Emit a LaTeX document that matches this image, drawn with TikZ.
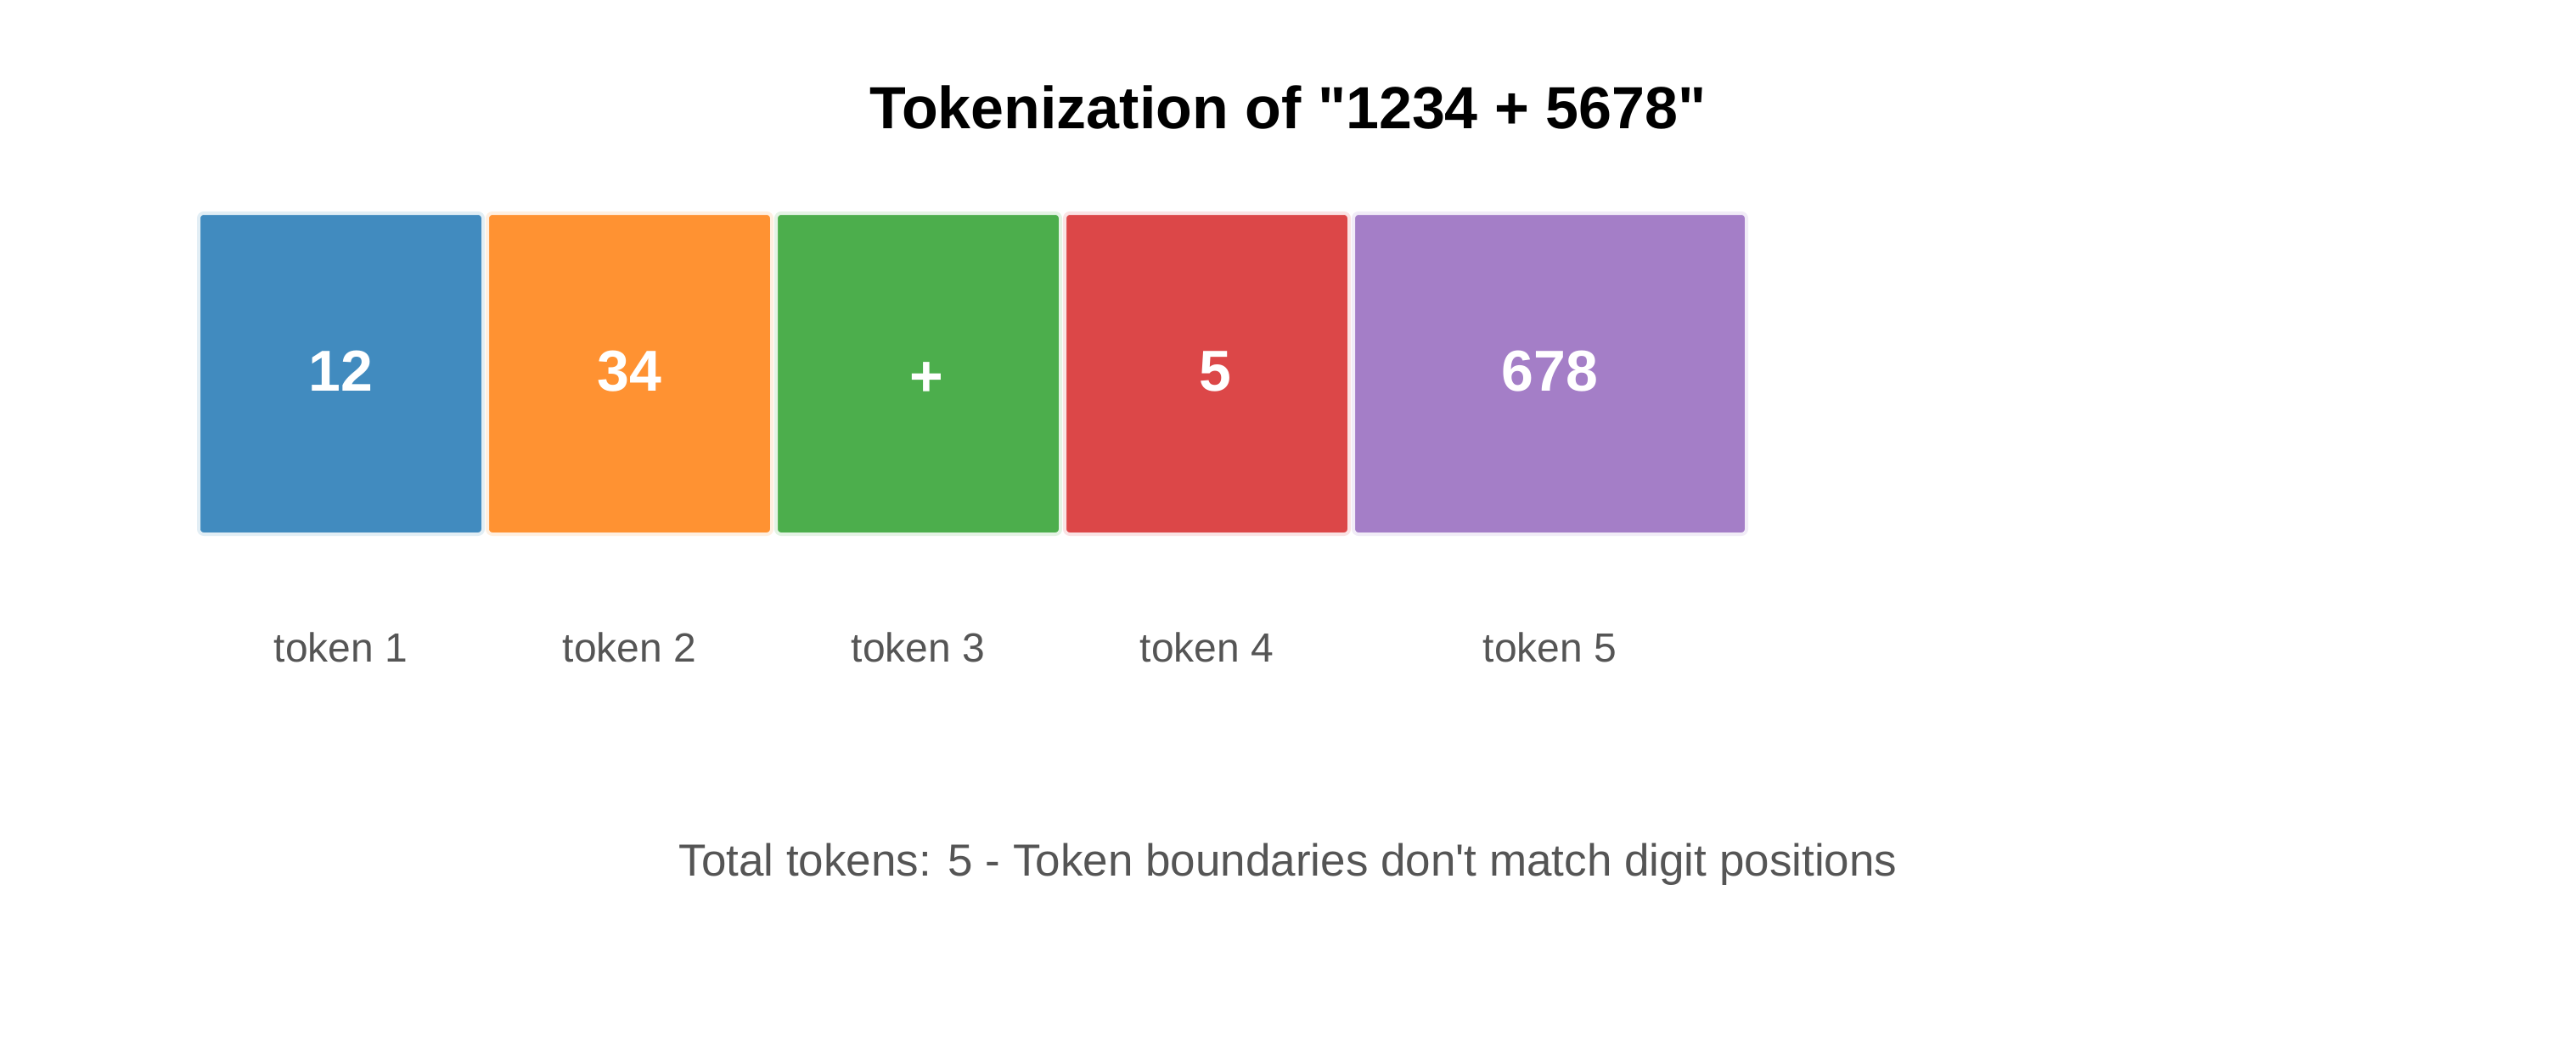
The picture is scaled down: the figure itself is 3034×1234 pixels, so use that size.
\documentclass[tikz,border=0pt]{standalone}
\usepackage{fontspec}
\setmainfont{Liberation Sans}[Ligatures=TeXOff]
\definecolor{cblue}{RGB}{65,139,191}
\definecolor{corange}{RGB}{255,146,50}
\definecolor{cgreen}{RGB}{76,174,76}
\definecolor{cred}{RGB}{220,71,72}
\definecolor{cpurple}{RGB}{164,126,199}
\definecolor{labelgray}{RGB}{85,85,85}
\tikzset{
  tokbox/.style={rectangle, rounded corners=6pt, line width=4pt, minimum height=378pt,
    minimum width=335pt, inner sep=0pt, text=white, text height=40pt, text depth=0pt,
    font=\fontsize{68}{80}\selectfont\bfseries},
  toklabel/.style={anchor=base, text=labelgray, inner sep=0pt, font=\fontsize{48}{58}\selectfont},
}
\begin{document}
\begin{tikzpicture}[x=1pt,y=-1pt]
\useasboundingbox (0,0) rectangle (3034,1234);
\node[anchor=base, inner sep=0pt, font=\fontsize{70}{84}\selectfont\bfseries] (title) at (1517,151) {Tokenization of "1234 + 5678"};
\node[tokbox, fill=cblue, draw=cblue!15!white] (t1) at (401.5,440) {12};
\node[tokbox, fill=corange, draw=corange!15!white] (t2) at (741.5,440) {34};
\node[tokbox, fill=cgreen, draw=cgreen!15!white] (t3) at (1081.5,440) {\hspace*{20pt}\raisebox{-6pt}{+}};
\node[tokbox, fill=cred, draw=cred!15!white] (t4) at (1421.5,440) {\hspace*{20pt}5};
\node[tokbox, fill=cpurple, draw=cpurple!15!white, minimum width=463pt] (t5) at (1825.5,440) {678};
\node[toklabel] (l1) at (401.5,779) {token 1};
\node[toklabel] (l2) at (741.5,779) {token 2};
\node[toklabel] (l3) at (1081.5,779) {token 3};
\node[toklabel] (l4) at (1421.5,779) {token 4};
\node[toklabel] (l5) at (1825.5,779) {token 5};
\node[anchor=base, inner sep=0pt, text=labelgray, font=\fontsize{53}{63}\selectfont] (foot) at (1517,1031) {Total tokens: 5 - Token boundaries don't match digit positions};
\end{tikzpicture}
\end{document}
